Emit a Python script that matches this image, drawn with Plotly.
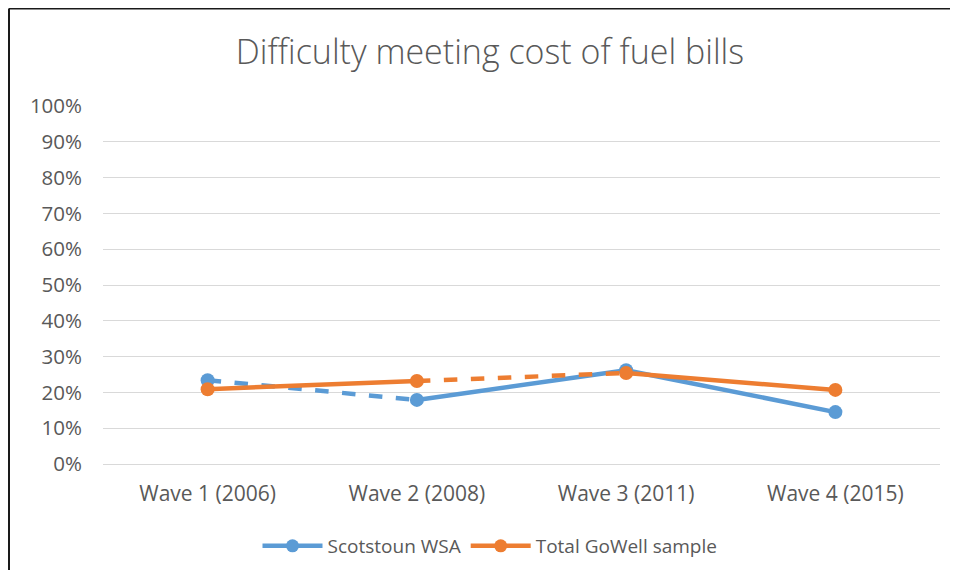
import plotly.graph_objects as go

categories = ["Wave 1 (2006)", "Wave 2 (2008)", "Wave 3 (2011)", "Wave 4 (2015)"]
scotstoun = [0.234, 0.179, 0.262, 0.145]
gowell = [0.209, 0.232, 0.254, 0.207]
# dash style for each segment between consecutive waves
scot_dash = ["dash", "solid", "solid"]
gowell_dash = ["solid", "dash", "solid"]
y_ticks = [i / 10 for i in range(11)]
y_tick_labels = [f"{i*10}%" for i in range(11)]

BLUE = "#5B9BD5"
ORANGE = "#ED7D31"
FONT = "Open Sans, Liberation Sans, sans-serif"

fig = go.Figure()

def add_series(name, vals, dashes, color):
    for i in range(len(vals) - 1):
        fig.add_trace(go.Scatter(
            x=[categories[i], categories[i + 1]], y=[vals[i], vals[i + 1]],
            mode="lines", line=dict(color=color, width=4.5, dash=dashes[i]),
            showlegend=False, hoverinfo="skip"))
    fig.add_trace(go.Scatter(
        x=categories, y=vals, mode="markers", name=name,
        marker=dict(color=color, size=14), showlegend=False))
    # legend entry
    fig.add_trace(go.Scatter(
        x=[None], y=[None], mode="lines+markers", name=name,
        line=dict(color=color, width=4.5), marker=dict(color=color, size=13)))

add_series("Scotstoun WSA", scotstoun, scot_dash, BLUE)
add_series("Total GoWell sample", gowell, gowell_dash, ORANGE)

# page body has an 8px margin; figure sized to fit without scrollbars
OFF = 8
W, H = 942, 562
L, T = 103 - OFF, 106 - OFF
R = W - (940 - OFF)
B = H - (464 - OFF)
pw, ph = W - L - R, H - T - B
bx = (9 - OFF - L) / pw
by = 1 + (T - 0.5) / ph

fig.update_layout(
    width=W, height=H,
    margin=dict(l=L, r=R, t=T, b=B),
    paper_bgcolor="white", plot_bgcolor="white",
    font=dict(family=FONT, color="#595959", size=20),
    title=dict(text="Difficulty meeting cost of fuel bills", x=(490 - OFF) / W, xanchor="center",
               y=1 - (52 - OFF) / H, yanchor="middle", yref="container",
               font=dict(size=34, color="#595959", family=FONT, weight=300)),
    xaxis=dict(range=[-0.5, 3.5], showgrid=False, showline=True, linecolor="#D9D9D9", linewidth=1,
               ticks="", tickfont=dict(size=21, color="#595959"), fixedrange=True,
               ticklabelstandoff=11),
    yaxis=dict(range=[0, 1], tickvals=y_ticks, ticktext=y_tick_labels,
               showgrid=True, gridcolor="#D9D9D9", gridwidth=1, zeroline=False,
               showline=False, ticks="", tickfont=dict(size=20.5, color="#595959"),
               ticklabelstandoff=20, fixedrange=True),
    legend=dict(orientation="h", x=(490 - OFF) / W, xanchor="center", xref="container",
                y=1 - (546 - OFF) / H, yanchor="middle", yref="container",
                font=dict(size=19, color="#595959"), itemwidth=60),
    shapes=[
        dict(type="line", xref="paper", yref="paper", x0=bx, x1=1.2, y0=by, y1=by,
             line=dict(color="#1a1a1a", width=2)),
        dict(type="line", xref="paper", yref="paper", x0=bx, x1=bx, y0=by, y1=-0.5,
             line=dict(color="#1a1a1a", width=2)),
    ],
)

fig.write_html("out.html")
